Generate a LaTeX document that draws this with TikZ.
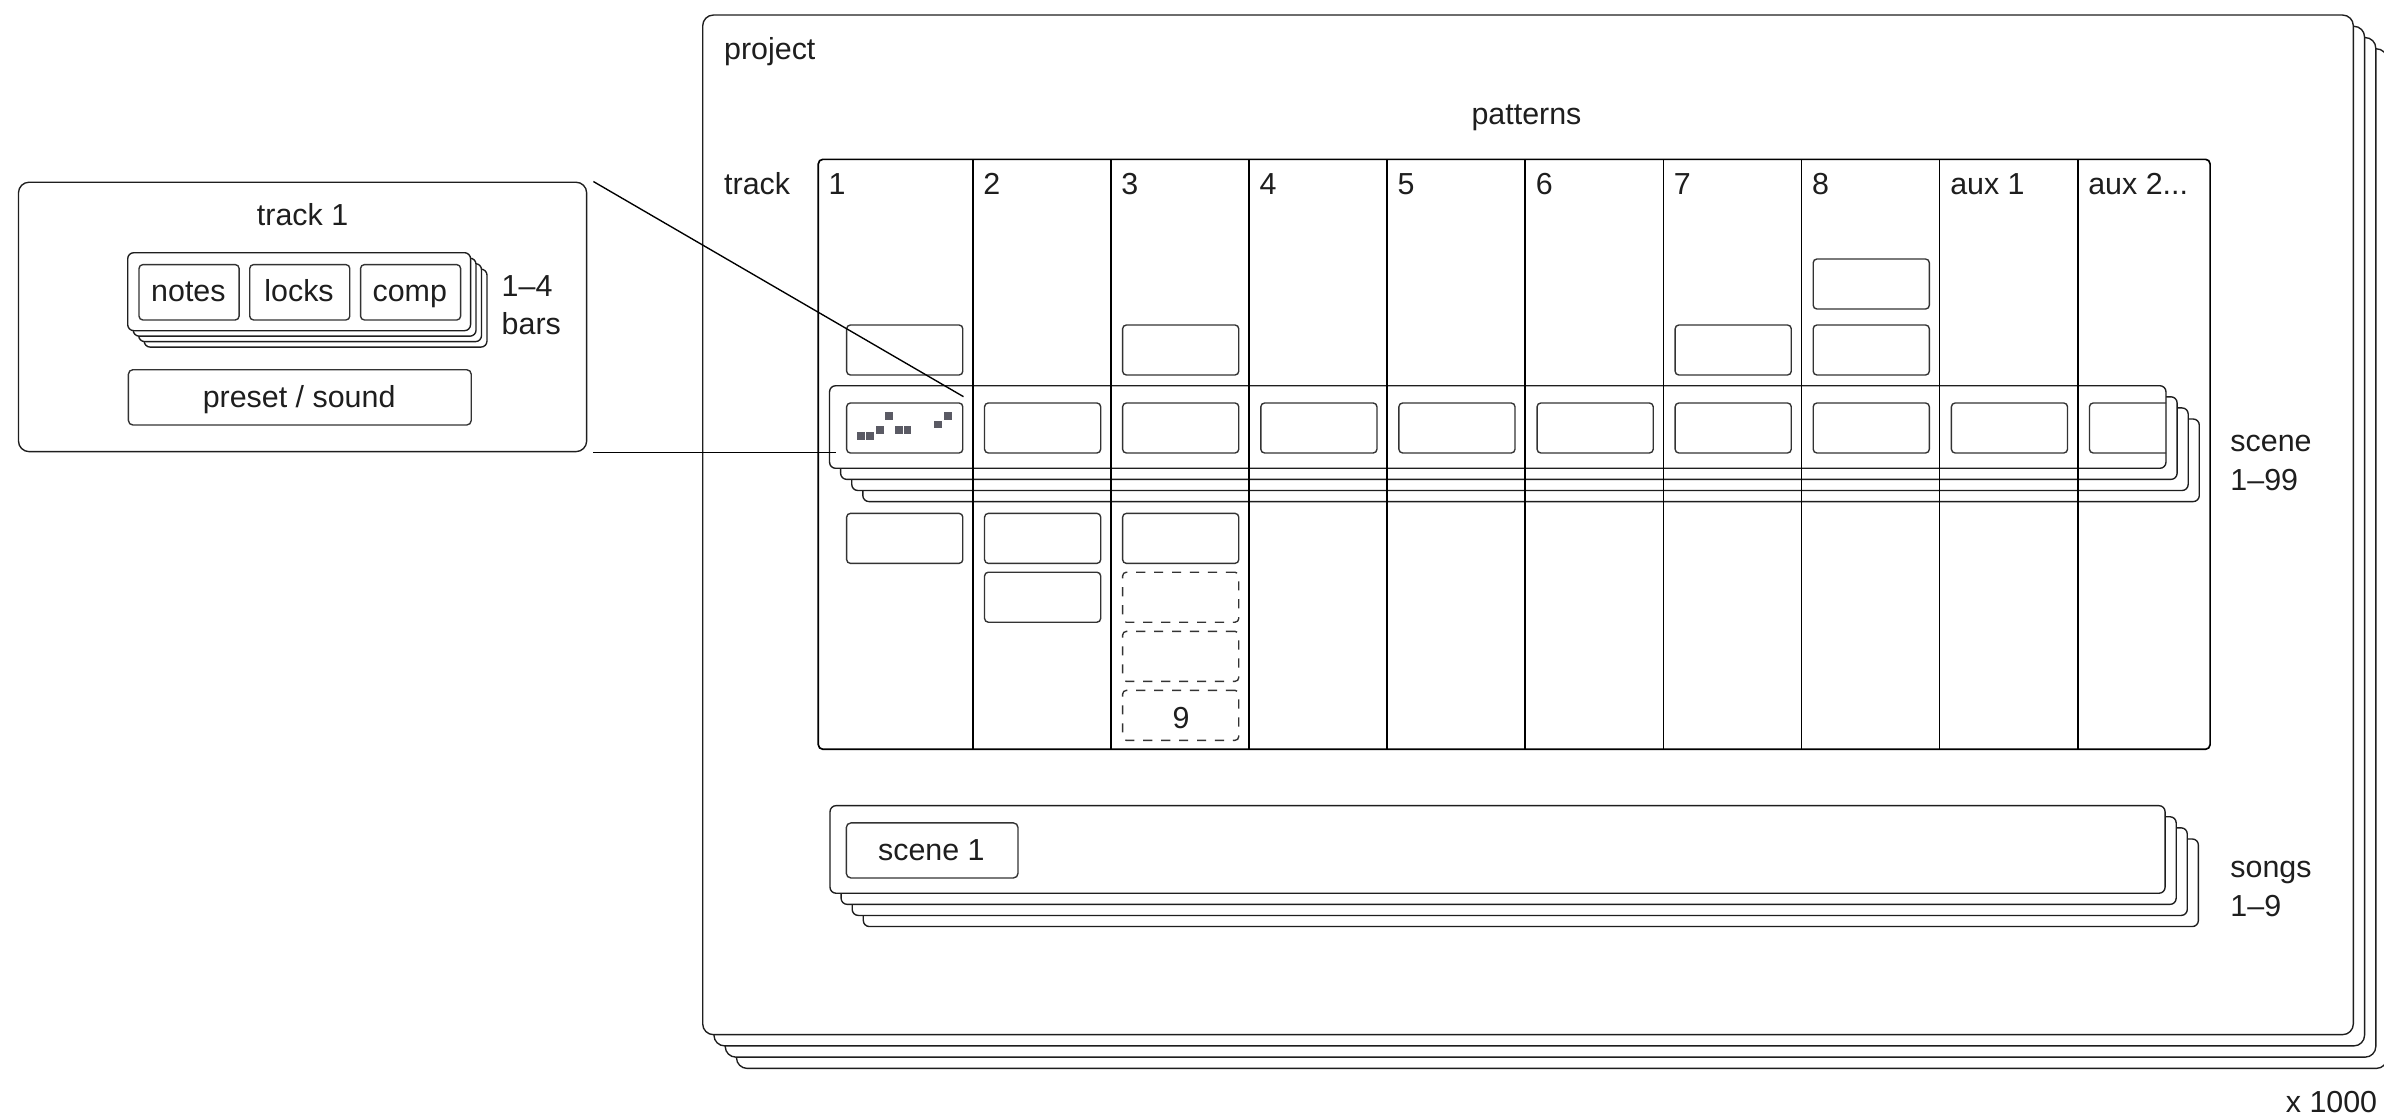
\documentclass[tikz,border=0pt]{standalone}
\usepackage{fontspec}
\setmainfont{Liberation Sans}
\usetikzlibrary{calc}
\definecolor{ink}{HTML}{1E1E1E}
\definecolor{edge}{HTML}{333333}
\definecolor{dot}{HTML}{5A5A64}
\begin{document}
\begin{tikzpicture}[x=1pt,y=-1pt,
  every node/.style={font=\fontsize{20}{24}\selectfont, text=ink},
  lbl/.style={inner sep=0pt, outer sep=0pt},
  stk/.style={draw=ink, fill=white, line width=0.9pt, rounded corners=4pt},
  bigstk/.style={draw=ink, fill=white, line width=0.9pt, rounded corners=7pt},
  pbox/.style={draw=edge, line width=0.9pt, rounded corners=2.5pt, inner sep=0pt, minimum width=76.4pt, minimum height=32.9pt, anchor=north west},
  dbox/.style={pbox, dash pattern=on 6pt off 5.8pt},
  gridln/.style={draw=black, line width=1.1pt},
  conn/.style={draw=black, line width=0.9pt}
]
\useasboundingbox (0,0) rectangle (1568,733);

% project stack
\foreach \k in {3,2,1} \draw[bigstk] ({462.2+7.4*\k},{9.9+7.4*\k}) rectangle ++(1085.6,670.6);
\draw[bigstk] (462.2,9.9) rectangle ++(1085.6,670.6);
\node[lbl, anchor=base west] (tproject) at (476.3,38.9) {project};
\node[lbl, anchor=base] (tpatterns) at (1004,82.2) {patterns};
\node[lbl, anchor=base west] (ttrack) at (476.3,127.9) {track};

% scene stack
\foreach \k in {3,2,1} \draw[stk] ({545.6+7.3*\k},{253.7+7.3*\k}) rectangle ++(879,54.3);
\draw[stk] (545.6,253.7) rectangle ++(879,54.3);

% grid
\draw[gridln, rounded corners=3pt] (538.2,104.8) rectangle (1453.6,492.8);
\foreach \i in {0,...,8} \draw[gridln] ({639.8+90.84*\i},104.8) -- ({639.8+90.84*\i},492.8);

% column headers
\node[lbl, anchor=base west] (h1) at (545,127.9) {1};
\node[lbl, anchor=base west] (h2) at (646.8,127.9) {2};
\node[lbl, anchor=base west] (h3) at (737.6,127.9) {3};
\node[lbl, anchor=base west] (h4) at (828.5,127.9) {4};
\node[lbl, anchor=base west] (h5) at (919.3,127.9) {5};
\node[lbl, anchor=base west] (h6) at (1010.2,127.9) {6};
\node[lbl, anchor=base west] (h7) at (1101.0,127.9) {7};
\node[lbl, anchor=base west] (h8) at (1191.8,127.9) {8};
\node[lbl, anchor=base west] (h9) at (1282.7,127.9) {aux 1};
\node[lbl, anchor=base west] (h10) at (1373.5,127.9) {aux 2...};

% pattern boxes above scene row
\node[pbox] (b8) at (1192.1,169.9) {};
\node[pbox] (a1) at (556.4,213.3) {};
\node[pbox] (a3) at (737.9,213.3) {};
\node[pbox] (a7) at (1101.3,213.3) {};
\node[pbox] (a8) at (1192.1,213.3) {};

% scene row boxes
\foreach \x [count=\i] in {556.4,647.1,737.9,828.8,919.6,1010.5,1101.3,1192.1,1283.0}
  \node[pbox] (s\i) at (\x,264.6) {};
\begin{scope}
  \clip (540,250) rectangle (1424.6,312);
  \node[pbox] (s10) at (1373.8,264.6) {};
\end{scope}
\foreach \x/\y in {566.4/286.9,572.3/286.9,578.9/283,584.8/273.8,591.2/283,597/283,617/279.1,623.4/273.8}
  \fill[dot] ({\x-2.5},{\y-2.5}) rectangle ++(5,5);

% pattern boxes below scene row
\node[pbox] (c1) at (556.4,337.2) {};
\node[pbox] (c2) at (647.1,337.2) {};
\node[pbox] (c3) at (737.9,337.2) {};
\node[pbox] (d2) at (647.1,375.9) {};
\node[dbox] (d3) at (737.9,375.9) {};
\node[dbox] (e3) at (737.9,414.8) {};
\node[dbox] (f3) at (737.9,453.6) {};
\node[lbl, anchor=base] (t9) at (776.8,479) {9};

\node[lbl, anchor=base west] (tscene) at (1467,297.1) {scene};
\node[lbl, anchor=base west] (tscenen) at (1467,322.3) {1–99};

% songs stack
\foreach \k in {3,2,1} \draw[stk] ({545.9+7.3*\k},{529.9+7.3*\k}) rectangle ++(878.1,57.6);
\draw[stk] (545.9,529.9) rectangle ++(878.1,57.6);
\node[pbox, minimum width=112.9pt, minimum height=36.2pt, rounded corners=3pt] (sc1) at (556.2,540.8) {};
\node[lbl, anchor=base] (tsc1) at (612.6,566.1) {scene 1};
\node[lbl, anchor=base west] (tsongs) at (1467,577) {songs};
\node[lbl, anchor=base west] (tsongsn) at (1467,602.9) {1–9};

\node[lbl, anchor=base east] (tx) at (1563.5,731.5) {x 1000};

% track 1 detail
\node[draw=ink, line width=0.9pt, rounded corners=7pt, inner sep=0pt, minimum width=373.7pt, minimum height=177.2pt, anchor=north west] (tb) at (11.7,119.4) {};
\node[lbl, anchor=base] (ttb) at (199,148) {track 1};
\foreach \k in {3,2,1} \draw[stk] ({84+3.6*\k},{166.2+3.6*\k}) rectangle ++(225.5,51.3);
\draw[stk] (84,166.2) rectangle ++(225.5,51.3);
\node[pbox, minimum width=65.8pt, minimum height=36.4pt] (bn) at (91,173.6) {};
\node[pbox, minimum width=65.8pt, minimum height=36.4pt] (bl) at (163.8,173.6) {};
\node[pbox, minimum width=65.8pt, minimum height=36.4pt] (bc) at (236.7,173.6) {};
\node[lbl, anchor=base] (tn) at (123.9,198.4) {notes};
\node[lbl, anchor=base] (tl) at (196.7,198.4) {locks};
\node[lbl, anchor=base] (tc) at (269.5,198.4) {comp};
\node[lbl, anchor=base west] (t14) at (330,195.1) {1–4};
\node[lbl, anchor=base west] (tbars) at (330,220.3) {bars};
\node[pbox, minimum width=225.5pt, minimum height=36.4pt, rounded corners=3pt] (bp) at (84,242.7) {};
\node[lbl, anchor=base] (tp) at (196.75,267.9) {preset / sound};

% connectors
\draw[conn] ($(tb.north east)+(4,0)$) -- ($(s1.north east)+(0,-3.7)$);
\draw[conn] ($(tb.south east)+(4,0)$) -- ($(tb.south east -| s1.west)+(-6.7,0)$);
\end{tikzpicture}
\end{document}
